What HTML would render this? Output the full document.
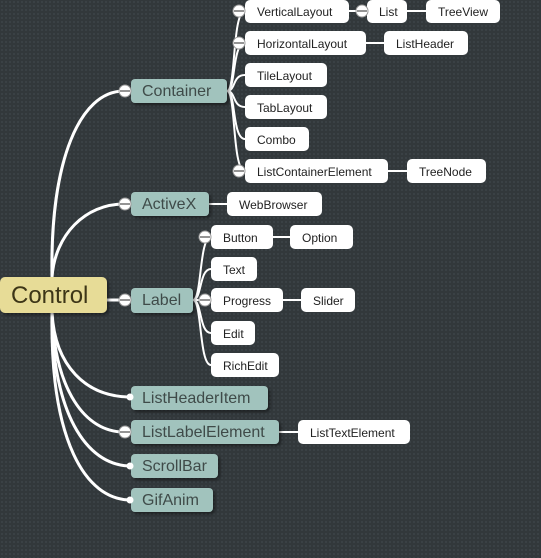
<!DOCTYPE html>
<html><head><meta charset="utf-8"><style>
html,body{margin:0;padding:0;width:541px;height:558px;overflow:hidden;background:#32383b}
svg{display:block}
text{font-family:"Liberation Sans",sans-serif}
</style></head><body>
<svg width="541" height="558" viewBox="0 0 541 558" xmlns="http://www.w3.org/2000/svg">
<defs>
<pattern id="dots" width="4" height="4" patternUnits="userSpaceOnUse">
<rect width="4" height="4" fill="#32383b"/><rect x="1" y="1" width="2" height="2" fill="#3a4145"/>
</pattern>
<filter id="sh" x="-10%" y="-10%" width="130%" height="140%"><feDropShadow dx="2" dy="2" stdDeviation="1.5" flood-color="#000" flood-opacity="0.45"/></filter>
</defs>
<rect width="541" height="558" fill="url(#dots)"/>

<g fill="none" stroke="#fff" stroke-linecap="round">
<!-- Control children -->
<g stroke-width="3">
<path d="M52,277 C50,160 80,91 124,91"/>
<path d="M52,277 C55,235 85,204 124,204"/>
<path d="M107,300 L124,300"/>
<path d="M52,313 C55,365 85,397 131,397"/>
<path d="M52,313 C55,390 85,432 124,432"/>
<path d="M52,313 C52,410 85,466 131,466"/>
<path d="M52,313 C50,440 85,500 131,500"/>
</g>
<g stroke-width="2">
<!-- Container children -->
<path d="M227,91 C236,91 232,11 245,11"/>
<path d="M227,91 C236,91 232,43 245,43"/>
<path d="M227,91 C236,91 232,75 245,75"/>
<path d="M227,91 C236,91 232,107 245,107"/>
<path d="M227,91 C236,91 232,139 245,139"/>
<path d="M227,91 C236,91 232,171 245,171"/>
<path d="M349,11 L367,11"/><path d="M407,11 L426,11"/>
<path d="M366,43 L384,43"/>
<path d="M388,171 L407,171"/>
<path d="M209,204 L227,204"/>
<!-- Label children -->
<path d="M193,300 C202,300 199,237 211,237"/>
<path d="M193,300 C202,300 199,269 211,269"/>
<path d="M193,300 L211,300"/>
<path d="M193,300 C202,300 199,333 211,333"/>
<path d="M193,300 C202,300 199,365 211,365"/>
<path d="M273,237 L290,237"/>
<path d="M283,300 L301,300"/>
<path d="M279,432 L298,432"/>
</g>
</g>

<!-- Control -->
<rect x="0" y="277" width="107" height="36" rx="5" fill="#e7dc97" filter="url(#sh)"/>
<text x="11" y="303" font-size="24" fill="#3d3617">Control</text>

<!-- level 1 -->
<g filter="url(#sh)" fill="#a1c3bd">
<rect x="131" y="79" width="96" height="24" rx="4"/>
<rect x="131" y="192" width="78" height="24" rx="4"/>
<rect x="131" y="288" width="62" height="25" rx="4"/>
<rect x="131" y="386" width="137" height="24" rx="4"/>
<rect x="131" y="420" width="148" height="24" rx="4"/>
<rect x="131" y="454" width="87" height="24" rx="4"/>
<rect x="131" y="488" width="82" height="24" rx="4"/>
</g>
<g font-size="16" fill="#3f4b49">
<text x="142" y="96">Container</text>
<text x="142" y="209">ActiveX</text>
<text x="142" y="305">Label</text>
<text x="142" y="403">ListHeaderItem</text>
<text x="142" y="437">ListLabelElement</text>
<text x="142" y="471">ScrollBar</text>
<text x="142" y="505">GifAnim</text>
</g>

<!-- level 2+ white -->
<g fill="#fff">
<rect x="245" y="0" width="104" height="23" rx="5"/>
<rect x="367" y="0" width="40" height="23" rx="5"/>
<rect x="426" y="0" width="74" height="23" rx="5"/>
<rect x="245" y="31" width="121" height="24" rx="5"/>
<rect x="384" y="31" width="84" height="24" rx="5"/>
<rect x="245" y="63" width="82" height="24" rx="5"/>
<rect x="245" y="95" width="82" height="24" rx="5"/>
<rect x="245" y="127" width="64" height="24" rx="5"/>
<rect x="245" y="159" width="143" height="24" rx="5"/>
<rect x="407" y="159" width="79" height="24" rx="5"/>
<rect x="227" y="192" width="95" height="24" rx="5"/>
<rect x="211" y="225" width="62" height="24" rx="5"/>
<rect x="290" y="225" width="63" height="24" rx="5"/>
<rect x="211" y="257" width="46" height="24" rx="5"/>
<rect x="211" y="288" width="72" height="24" rx="5"/>
<rect x="301" y="288" width="54" height="24" rx="5"/>
<rect x="211" y="321" width="44" height="24" rx="5"/>
<rect x="211" y="353" width="68" height="24" rx="5"/>
<rect x="298" y="420" width="112" height="24" rx="5"/>
</g>
<g font-size="12" fill="#222">
<text x="257" y="16">VerticalLayout</text>
<text x="379" y="16">List</text>
<text x="438" y="16">TreeView</text>
<text x="257" y="48">HorizontalLayout</text>
<text x="396" y="48">ListHeader</text>
<text x="257" y="80">TileLayout</text>
<text x="257" y="112">TabLayout</text>
<text x="257" y="144">Combo</text>
<text x="257" y="176">ListContainerElement</text>
<text x="419" y="176">TreeNode</text>
<text x="239" y="209">WebBrowser</text>
<text x="223" y="242">Button</text>
<text x="302" y="242">Option</text>
<text x="223" y="274">Text</text>
<text x="223" y="305">Progress</text>
<text x="313" y="305">Slider</text>
<text x="223" y="338">Edit</text>
<text x="223" y="370">RichEdit</text>
<text x="310" y="437">ListTextElement</text>
</g>

<!-- collapse circles -->
<g stroke="#9a9a9a" stroke-width="1" fill="#fff">
<circle cx="125" cy="91" r="6"/><circle cx="125" cy="204" r="6"/><circle cx="125" cy="300" r="6"/><circle cx="125" cy="432" r="6"/>
<circle cx="239" cy="11" r="6"/><circle cx="239" cy="43" r="6"/><circle cx="239" cy="171" r="6"/>
<circle cx="362" cy="11" r="6"/>
<circle cx="205" cy="237" r="6"/><circle cx="205" cy="300" r="6"/>
</g>
<g stroke="#555" stroke-width="1.2">
<path d="M120,91h10M120,204h10M120,300h10M120,432h10M234,11h10M234,43h10M234,171h10M357,11h10M200,237h10M200,300h10"/>
</g>
<g fill="#fff">
<circle cx="130" cy="397" r="3.5"/><circle cx="130" cy="466" r="3.5"/><circle cx="130" cy="500" r="3.5"/>
</g>
</svg>
</body></html>
